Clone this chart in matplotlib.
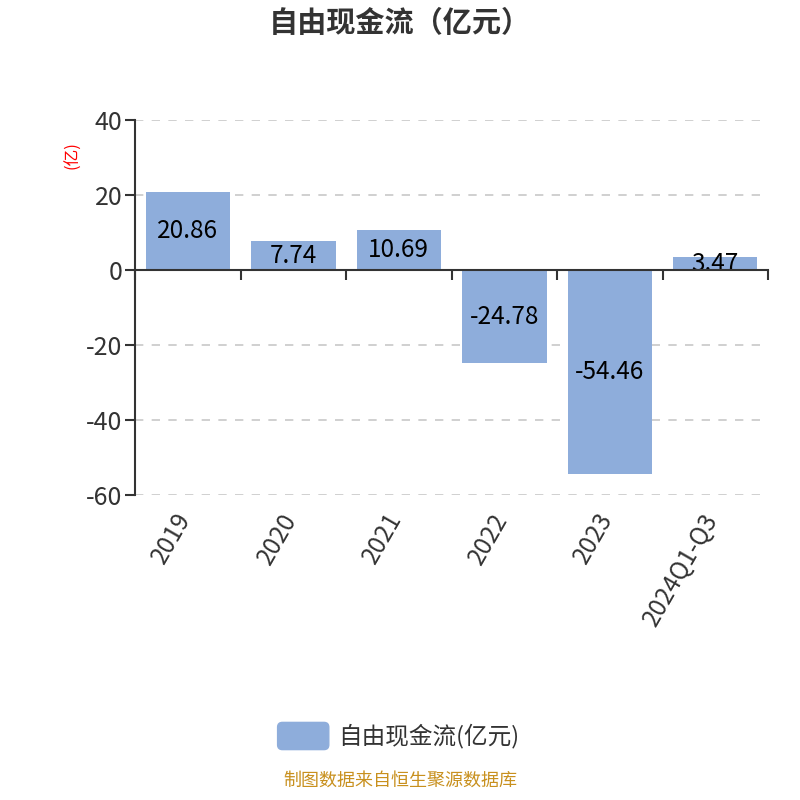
import numpy as np
import matplotlib.pyplot as plt
import matplotlib.transforms as mtransforms
from matplotlib.patches import FancyBboxPatch

plt.rcParams['font.family'] = ['Noto Sans CJK SC', 'DejaVu Sans']

# 数据
years = ['2019', '2020', '2021', '2022', '2023', '2024Q1-Q3']
fcf = [20.86, 7.74, 10.69, -24.78, -54.46, 3.47]
yticks = [40, 20, 0, -20, -40, -60]

bar_color = '#8eaddb'
text_color = '#333333'

fig = plt.figure(figsize=(8, 8), dpi=100)
ax = fig.add_axes([0.169, 0.381, 0.791, 0.469])

x = np.arange(len(years))
bars = ax.bar(x, fcf, width=0.8, color=bar_color, zorder=3)

# 柱内数值
for xi, v in zip(x, fcf):
    ax.text(xi, v / 2, f'{v:.2f}', ha='center', va='center',
            fontsize=17.5, color='black', zorder=4)

ax.set_xlim(-0.5, len(years) - 0.5)
ax.set_ylim(-60, 40)
ax.set_yticks(yticks)
ax.set_yticklabels([str(t) for t in yticks], fontsize=18, color=text_color)
ax.tick_params(axis='y', length=7, width=1.5, color=text_color, pad=2)

# 网格
for t in yticks:
    if t != 0:
        ax.axhline(t, color='#c8c8c8', lw=1.2, ls=(0, (5, 5)), zorder=1)

# 坐标轴
for s in ['top', 'right']:
    ax.spines[s].set_visible(False)
ax.spines['left'].set_color(text_color)
ax.spines['left'].set_linewidth(1.5)
ax.spines['bottom'].set_position(('data', 0))
ax.spines['bottom'].set_color(text_color)
ax.spines['bottom'].set_linewidth(1.5)
ax.spines['bottom'].set_zorder(5)

ax.set_xticks(np.arange(len(years) + 1) - 0.5)
ax.set_xticklabels([])
ax.tick_params(axis='x', length=7, width=1.5, color=text_color)

# x 轴标签放在底部
trans = mtransforms.blended_transform_factory(ax.transData, ax.transAxes)
for xi, lab in zip(x, years):
    ax.text(xi - 0.13, -0.035, lab, transform=trans, rotation=60,
            ha='right', va='top', rotation_mode='anchor',
            fontsize=17.5, color=text_color)

ax.text(-0.098, 0.907, '(亿)', transform=ax.transAxes, rotation=90,
        ha='center', va='center', fontsize=12, color='red')

fig.text(0.5, 0.971, '自由现金流（亿元）', ha='center', va='center',
         fontsize=21, fontweight='bold', color=text_color)

# 图例
fig.patches.append(FancyBboxPatch((0.349, 0.065), 0.060, 0.030,
                                  boxstyle='round,pad=0.002,rounding_size=0.006',
                                  transform=fig.transFigure, color=bar_color))
fig.text(0.423, 0.080, '自由现金流(亿元)', ha='left', va='center',
         fontsize=17, color=text_color)

fig.text(0.5, 0.024, '制图数据来自恒生聚源数据库', ha='center', va='center',
         fontsize=13, color='#c8901e')

fig.savefig('out.png', dpi=100)
